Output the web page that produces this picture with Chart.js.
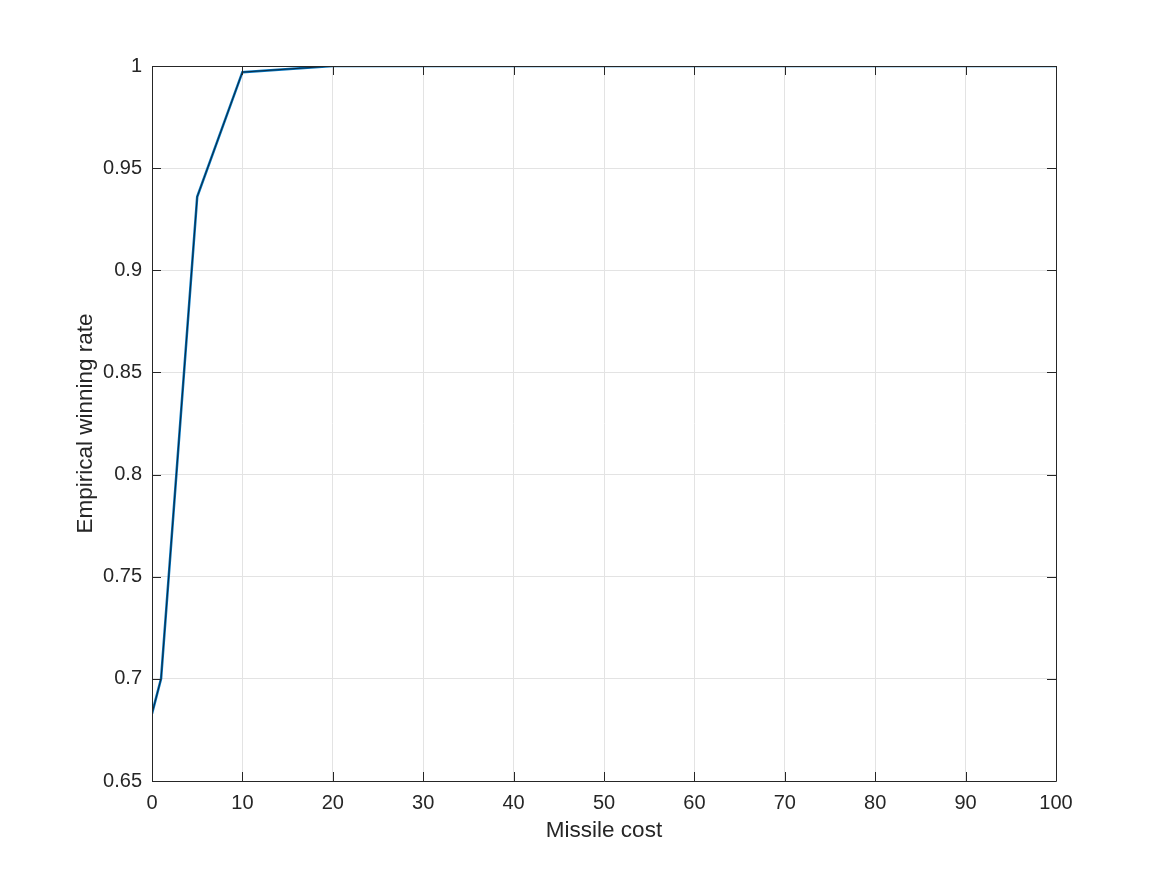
<!DOCTYPE html>
<html>
<head>
<meta charset="utf-8">
<script src="https://cdn.jsdelivr.net/npm/chart.js@4/dist/chart.umd.min.js"></script>
<style>
  html, body { margin: 0; padding: 0; background: #fff; }
  #wrap { width: 1167px; height: 875px; }
</style>
</head>
<body>
<div id="wrap"><canvas id="chart" width="1167" height="875"></canvas></div>
<script>
const missileCost = [0, 1, 5, 10, 20, 30, 40, 50, 60, 70, 80, 90, 100];
const winRate = [0.683, 0.700, 0.936, 0.997, 1.0, 1.0, 1.0, 1.0, 1.0, 1.0, 1.0, 1.0, 1.0];
const xTicks = [0, 10, 20, 30, 40, 50, 60, 70, 80, 90, 100];
const yTicks = [0.65, 0.7, 0.75, 0.8, 0.85, 0.9, 0.95, 1];

const axisColor = '#262626';
const fontFamily = 'Liberation Sans, Arial, Helvetica, sans-serif';

const points = missileCost.map((x, i) => ({ x, y: winRate[i] }));

// box round the axes with MATLAB style inward ticks
const boxPlugin = {
  id: 'boxPlugin',
  afterDatasetsDraw(chart) {
    const { ctx, chartArea: a, scales } = chart;
    ctx.save();
    ctx.strokeStyle = axisColor;
    ctx.lineWidth = 1;
    ctx.beginPath();
    ctx.rect(a.left + 0.5, a.top + 0.5, a.right - a.left, a.bottom - a.top);
    const len = 9;
    xTicks.forEach((v) => {
      const px = Math.round(scales.x.getPixelForValue(v)) + 0.5;
      ctx.moveTo(px, a.bottom);
      ctx.lineTo(px, a.bottom - len);
      ctx.moveTo(px, a.top);
      ctx.lineTo(px, a.top + len);
    });
    yTicks.forEach((v) => {
      const py = Math.round(scales.y.getPixelForValue(v)) + 0.5;
      ctx.moveTo(a.left, py);
      ctx.lineTo(a.left + len, py);
      ctx.moveTo(a.right, py);
      ctx.lineTo(a.right - len, py);
    });
    ctx.stroke();
    ctx.restore();
  },
};

new Chart(document.getElementById('chart'), {
  type: 'line',
  data: {
    datasets: [
      {
        data: points,
        borderColor: 'rgba(15,25,35,0.8)',
        borderWidth: 1,
        pointRadius: 0,
        tension: 0,
        fill: false,
        order: 0,
      },
      {
        data: points,
        borderColor: '#0072BD',
        borderWidth: 2.5,
        pointRadius: 0,
        tension: 0,
        fill: false,
        order: 1,
      },
    ],
  },
  options: {
    responsive: false,
    animation: false,
    layout: { padding: { left: 72, right: 111, top: 66, bottom: 31 } },
    plugins: { legend: { display: false }, tooltip: { enabled: false } },
    scales: {
      x: {
        type: 'linear',
        min: 0,
        max: 100,
        afterFit: (s) => { s.height = 63; },
        afterBuildTicks: (s) => { s.ticks = xTicks.map((v) => ({ value: v })); },
        grid: { color: '#e3e3e3', drawTicks: false },
        border: { display: false },
        ticks: { color: axisColor, padding: 10, font: { family: fontFamily, size: 20 } },
        title: {
          display: true,
          text: 'Missile cost',
          color: axisColor,
          padding: 0,
          font: { family: fontFamily, size: 22.5 },
        },
      },
      y: {
        type: 'linear',
        min: 0.65,
        max: 1,
        afterFit: (s) => { s.width = 80; },
        afterBuildTicks: (s) => { s.ticks = yTicks.map((v) => ({ value: v })); },
        grid: { color: '#e3e3e3', drawTicks: false },
        border: { display: false },
        ticks: {
          color: axisColor,
          padding: 10,
          font: { family: fontFamily, size: 20 },
          callback: (v) => String(v),
        },
        title: {
          display: true,
          text: 'Empirical winning rate',
          color: axisColor,
          padding: 0,
          font: { family: fontFamily, size: 22.5 },
        },
      },
    },
  },
  plugins: [boxPlugin],
});
</script>
</body>
</html>
